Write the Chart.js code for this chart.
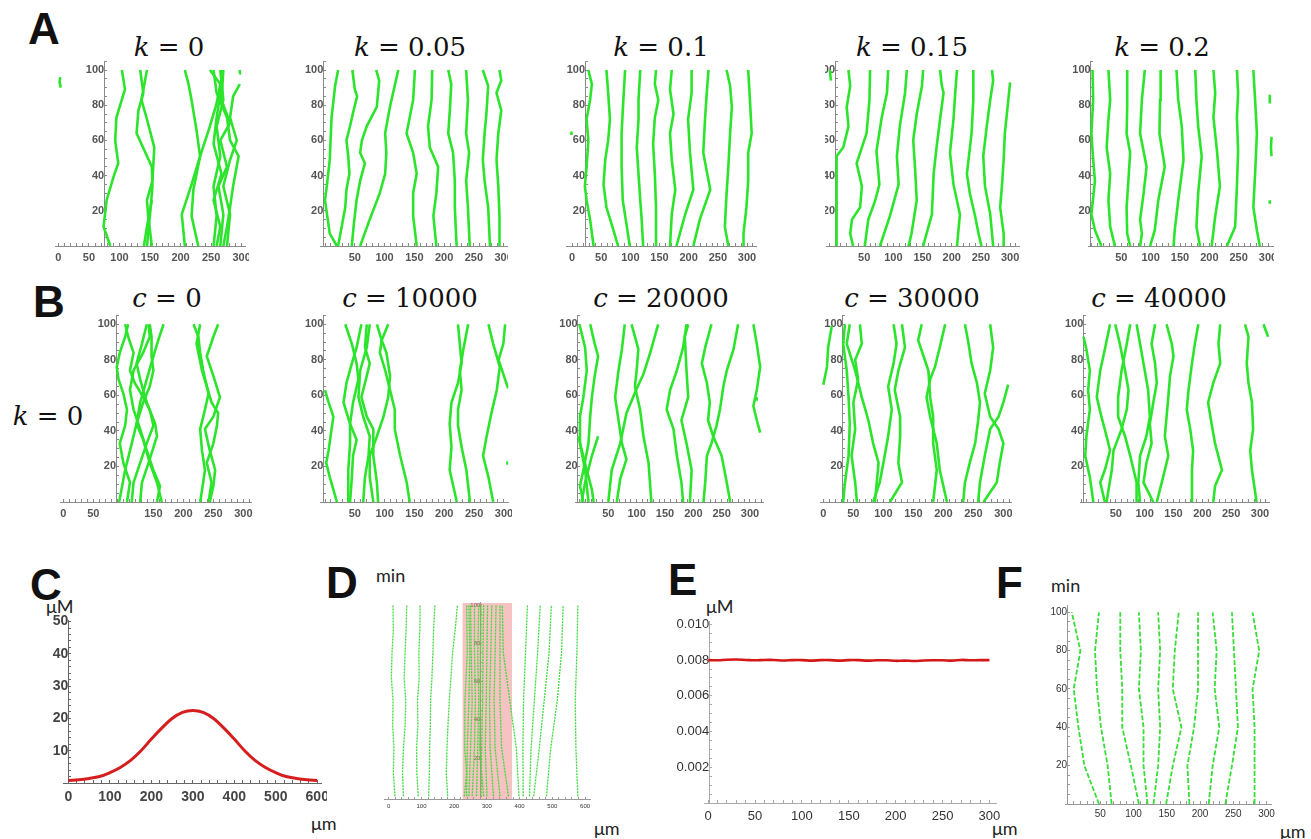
<!DOCTYPE html>
<html>
<head>
<meta charset="utf-8">
<script src="https://cdn.jsdelivr.net/npm/chart.js@4.4.1/dist/chart.umd.min.js"></script>
<style>
  body { margin: 0; background: #fff; }
  #page { position: relative; width: 1311px; height: 839px; overflow: hidden; background: #fff; }
  #page canvas { position: absolute; }
  .lbl { position: absolute; line-height: 1; white-space: nowrap; color: #111; }
  .letter { font: bold 44px 'Liberation Sans', Arial, sans-serif; }
  .ttl { font: 26px 'DejaVu Serif', serif; transform: translateX(-50%); }
  .unit { font: 18px Lato, sans-serif; color: #222; }
</style>
</head>
<body>
<div id="page">
  <div class="lbl letter" style="left:28px;top:4px">A</div>
  <div class="lbl letter" style="left:33px;top:277px">B</div>
  <div class="lbl letter" style="left:30px;top:560px">C</div>
  <div class="lbl letter" style="left:326px;top:558px">D</div>
  <div class="lbl letter" style="left:668px;top:555px">E</div>
  <div class="lbl letter" style="left:996px;top:558px">F</div>

  <div class="lbl ttl" style="left:169px;top:32px"><i>k</i> = 0</div>
  <div class="lbl ttl" style="left:410px;top:32px"><i>k</i> = 0.05</div>
  <div class="lbl ttl" style="left:661px;top:32px"><i>k</i> = 0.1</div>
  <div class="lbl ttl" style="left:912px;top:32px"><i>k</i> = 0.15</div>
  <div class="lbl ttl" style="left:1162px;top:32px"><i>k</i> = 0.2</div>

  <div class="lbl ttl" style="left:167px;top:283px"><i>c</i> = 0</div>
  <div class="lbl ttl" style="left:410px;top:283px"><i>c</i> = 10000</div>
  <div class="lbl ttl" style="left:661px;top:283px"><i>c</i> = 20000</div>
  <div class="lbl ttl" style="left:912px;top:283px"><i>c</i> = 30000</div>
  <div class="lbl ttl" style="left:1159px;top:283px"><i>c</i> = 40000</div>
  <div class="lbl ttl" style="left:48px;top:401px"><i>k</i> = 0</div>

  <div class="lbl unit" style="left:46px;top:595px">μM</div>
  <div class="lbl unit" style="left:311px;top:812px">μm</div>
  <div class="lbl unit" style="left:376px;top:564px">min</div>
  <div class="lbl unit" style="left:594px;top:817px">μm</div>
  <div class="lbl unit" style="left:706px;top:595px">μM</div>
  <div class="lbl unit" style="left:992px;top:817px">μm</div>
  <div class="lbl unit" style="left:1051px;top:574px">min</div>
  <div class="lbl unit" style="left:1280px;top:820px">μm</div>
</div>

<script>
// ---- row A: k = 0 ... 0.2, tracks as [x (µm), t (min)] ----
const A1_TRACKS = [
  [[85,0],[74,11],[79,26],[90,39],[98,47],[93,60],[95,73],[109,89],[104,100]],
  [[145,0],[150,18],[154,34],[153,45],[128,64],[131,77],[139,87],[134,100]],
  [[153,0],[147,17],[145,26],[154,37],[157,56],[145,72],[136,83],[145,100]],
  [[140,0],[145,11],[153,26]],
  [[207,0],[202,18],[218,35],[232,51],[248,68],[259,81],[265,92],[248,100]],
  [[229,0],[218,17],[221,32],[232,51],[226,66],[218,83],[213,92],[207,100]],
  [[254,0],[259,17],[254,34],[265,51],[259,68],[270,83],[265,100]],
  [[265,0],[270,18],[262,34],[276,45],[265,60],[281,70],[267,83],[270,100]],
  [[276,0],[281,18],[270,34],[281,49],[292,60],[281,73],[286,85],[297,92]],
  [[259,0],[265,11],[254,26],[267,41],[254,58],[259,73],[267,91],[267,100]],
  [[270,0],[276,11],[281,22],[286,34],[295,51],[281,60],[276,73],[259,87],[254,100]],
  [[296,98],[297,100]],
  [[3,96],[2,93],[4,90]]
];
const A2_TRACKS = [
  [[20,0],[8,7],[0,26],[3,34],[8,49],[11,73],[17,91],[22,100]],
  [[22,0],[28,11],[34,22],[36,32],[41,41],[39,51],[36,60],[42,68],[48,77],[54,85],[50,89],[46,100]],
  [[45,0],[48,11],[53,26],[59,37],[67,47],[59,53],[62,60],[70,68],[87,79],[91,94],[86,100]],
  [[59,0],[75,15],[92,30],[101,41],[103,53],[101,64],[109,79],[117,91],[123,100]],
  [[154,0],[148,17],[148,30],[154,41],[148,53],[137,64],[148,83],[151,100]],
  [[187,0],[182,17],[187,30],[190,45],[176,56],[173,68],[179,83],[180,100]],
  [[221,0],[218,22],[218,37],[215,53],[207,64],[210,79],[212,92],[207,100]],
  [[243,0],[240,22],[237,37],[242,53],[237,64],[240,83],[237,100]],
  [[277,0],[274,22],[268,37],[265,49],[268,64],[271,75],[274,91],[265,100]],
  [[293,0],[293,17],[291,34],[288,49],[291,64],[296,77],[288,87],[296,94],[293,100]]
];
const A3_TRACKS = [
  [[37,0],[31,15],[25,26],[22,34],[25,45],[28,60],[25,72],[31,83],[34,92],[28,100]],
  [[79,0],[71,9],[59,22],[54,35],[57,49],[62,60],[65,72],[62,87],[59,100]],
  [[99,0],[94,11],[87,26],[85,45],[85,64],[88,83],[91,100]],
  [[122,0],[119,17],[117,26],[114,41],[111,56],[114,72],[114,83],[117,100]],
  [[144,0],[144,22],[142,41],[139,58],[142,73],[148,83],[142,92],[144,100]],
  [[168,0],[171,18],[177,32],[171,49],[168,64],[174,75],[168,89],[171,100]],
  [[179,0],[194,18],[208,32],[202,54],[199,72],[205,87],[205,100]],
  [[208,0],[219,15],[237,32],[225,53],[228,72],[231,87],[234,100]],
  [[268,0],[262,11],[265,30],[268,45],[271,64],[274,79],[271,91],[265,100]],
  [[294,0],[294,7],[299,22],[302,37],[302,53],[308,64],[305,83],[302,100]],
  [[-1,63],[-1,65]]
];
const A4_TRACKS = [
  [[-9,100],[-7,94]],
  [[2,0],[3,26],[2,41],[3,51],[14,56],[23,68],[20,79],[26,91],[23,100]],
  [[31,0],[26,7],[29,15],[43,22],[46,34],[37,47],[54,64],[59,83],[60,100]],
  [[51,0],[57,15],[69,26],[76,35],[71,54],[80,73],[89,87],[91,100]],
  [[77,0],[94,17],[109,35],[106,51],[111,68],[120,87],[123,100]],
  [[126,0],[131,7],[140,26],[137,45],[134,60],[140,75],[149,91],[151,100]],
  [[151,0],[166,18],[169,41],[174,56],[180,72],[186,87],[183,91],[180,100]],
  [[209,0],[214,18],[203,35],[197,53],[203,72],[206,87],[209,100]],
  [[251,0],[246,7],[240,17],[231,30],[226,41],[234,64],[237,83],[237,100]],
  [[271,0],[266,18],[257,34],[254,51],[260,68],[266,83],[271,94],[269,100]],
  [[289,0],[289,7],[283,22],[286,34],[289,49],[291,64],[297,83],[300,93]]
];
const A5_TRACKS = [
  [[16,0],[5,9],[-1,18],[5,37],[2,49],[-1,64],[2,83],[1,100]],
  [[39,0],[31,11],[28,26],[31,41],[25,56],[28,72],[31,83],[28,100]],
  [[65,0],[60,7],[59,22],[62,37],[65,53],[59,64],[60,79],[60,100]],
  [[82,0],[85,7],[82,15],[88,30],[93,45],[82,64],[85,83],[90,100]],
  [[99,0],[107,9],[113,26],[124,45],[115,64],[116,83],[117,100]],
  [[139,0],[141,9],[147,26],[156,49],[153,68],[147,83],[144,100]],
  [[184,0],[178,11],[181,30],[187,51],[181,68],[178,83],[176,100]],
  [[204,0],[210,17],[218,34],[213,54],[207,73],[210,87],[207,100]],
  [[230,0],[244,11],[247,34],[249,54],[247,73],[249,87],[247,100]],
  [[286,0],[281,9],[275,22],[278,41],[281,64],[278,83],[275,100]],
  [[303,81],[303,86]],
  [[306,51],[305,56],[306,62]],
  [[303,24],[303,26]]
];

// ---- row B: c = 0 ... 40000 (k = 0) ----
const B1_TRACKS = [
  [[93,0],[103,18],[114,33],[122,44],[128,56],[139,69],[150,82],[158,91],[167,100]],
  [[106,0],[111,11],[100,22],[94,33],[103,43],[106,52],[100,61],[92,69],[89,76],[94,84],[103,93],[108,100]],
  [[114,0],[117,11],[128,22],[139,33],[150,43],[144,52],[133,59],[119,67],[111,74],[117,84],[108,93],[103,100]],
  [[128,0],[131,11],[142,22],[156,37],[153,44],[139,56],[128,69],[122,78],[131,89],[139,100]],
  [[156,0],[161,9],[150,18],[139,29],[128,41],[117,52],[111,63],[117,74],[133,84],[144,93],[142,100]],
  [[164,0],[156,11],[144,22],[133,35],[122,44],[133,56],[144,65],[150,74],[147,82],[147,93],[144,100]],
  [[228,0],[233,11],[236,18],[231,29],[228,41],[236,52],[242,61],[233,74],[228,84],[225,93],[217,100]],
  [[242,0],[247,11],[239,22],[250,33],[256,43],[258,50],[247,56],[239,65],[231,74],[222,89],[228,100]],
  [[244,0],[250,9],[253,18],[244,29],[236,41],[250,48],[261,59],[250,71],[239,82],[250,93],[258,100]]
];
const B2_TRACKS = [
  [[20,0],[8,14],[2,22],[6,29],[11,41],[14,48],[6,56],[0,63]],
  [[42,0],[45,14],[47,26],[53,35],[42,44],[47,56],[56,69],[53,78],[45,89],[34,100]],
  [[39,0],[39,18],[42,33],[42,44],[31,56],[36,67],[45,78],[53,87],[61,100]],
  [[89,0],[87,11],[81,26],[81,41],[70,48],[61,59],[70,71],[75,78],[67,87],[70,100]],
  [[64,0],[67,14],[73,26],[75,37],[64,48],[56,59],[59,74],[70,87],[75,100]],
  [[81,0],[75,14],[75,26],[87,37],[98,48],[106,59],[109,71],[103,84],[95,91],[87,100]],
  [[142,0],[137,11],[126,26],[117,41],[117,52],[109,63],[101,74],[92,84],[95,91],[106,100]],
  [[221,0],[209,18],[212,31],[209,44],[212,56],[223,67],[229,78],[226,89],[223,100]],
  [[243,0],[237,18],[229,31],[223,43],[223,52],[229,63],[226,74],[232,86],[240,100]],
  [[282,0],[274,14],[265,26],[271,37],[279,50],[288,63],[293,76],[282,89],[274,100]],
  [[307,64],[299,72],[291,80],[299,89],[302,100]],
  [[306,21],[306,23]]
];
const B3_TRACKS = [
  [[15,0],[9,18],[0,33],[0,48],[6,59],[12,74],[9,87],[-1,100]],
  [[6,0],[0,9],[6,18],[15,33],[18,48],[21,59],[26,71],[32,82],[26,89],[18,100]],
  [[24,0],[21,7],[12,18],[-3,37]],
  [[3,0],[9,11],[21,26],[32,37]],
  [[65,0],[71,13],[82,24],[74,33],[68,46],[62,59],[68,74],[74,86],[79,100]],
  [[126,0],[121,22],[112,37],[106,52],[97,65],[100,74],[103,86],[91,100]],
  [[50,0],[56,18],[71,33],[82,50],[99,63],[112,72],[124,84],[138,100]],
  [[182,0],[179,11],[171,26],[165,41],[153,52],[159,63],[171,74],[182,87],[188,100]],
  [[194,0],[197,18],[188,33],[179,46],[191,59],[188,74],[185,93],[191,100]],
  [[265,0],[259,11],[250,26],[235,37],[226,46],[229,56],[224,67],[215,78],[221,87],[232,100]],
  [[218,0],[221,11],[224,26],[232,33],[241,43],[247,52],[253,65],[259,74],[271,86],[279,100]],
  [[318,39],[312,46],[306,54],[312,63],[318,76],[312,89],[306,100]],
  [[312,57],[312,59]]
];
const B4_TRACKS = [
  [[0,66],[6,76],[8,87],[14,99]],
  [[33,0],[36,11],[42,26],[44,44],[42,59],[39,74],[33,89],[36,100]],
  [[86,0],[89,11],[92,22],[83,33],[75,46],[64,59],[53,74],[39,89],[44,100]],
  [[56,0],[53,11],[47,26],[53,41],[50,56],[58,69],[53,80],[64,89],[61,100]],
  [[83,0],[94,11],[100,22],[108,37],[114,52],[108,65],[117,78],[122,89],[117,100]],
  [[111,0],[131,11],[125,22],[128,37],[128,48],[119,63],[125,74],[136,87],[131,100]],
  [[183,0],[189,18],[183,33],[183,48],[178,59],[175,74],[167,82],[158,91],[164,100]],
  [[206,0],[194,18],[189,33],[178,48],[172,59],[178,69],[186,76],[194,87],[203,100]],
  [[233,0],[236,11],[244,22],[253,33],[258,46],[261,56],[256,67],[247,78],[242,89],[236,100]],
  [[267,0],[289,11],[294,22],[300,33],[292,41],[278,48],[269,61],[278,74],[283,87],[278,100]],
  [[258,0],[261,11],[269,26],[278,41],[292,48],[300,56],[308,66]]
];
const B5_TRACKS = [
  [[11,0],[5,14],[-3,26],[-1,37],[5,52],[2,63],[5,74],[-1,86],[-6,93]],
  [[31,0],[23,11],[31,18],[40,29],[34,37],[25,48],[17,59],[23,74],[31,86],[40,100]],
  [[34,0],[43,18],[46,29],[60,41],[69,52],[72,63],[66,74],[57,89],[49,100]],
  [[86,0],[86,11],[75,26],[66,37],[54,48],[54,59],[60,74],[69,89],[75,100]],
  [[92,0],[89,11],[92,26],[103,37],[109,48],[106,63],[98,78],[92,89],[86,100]],
  [[115,0],[98,11],[103,22],[112,33],[109,44],[115,56],[121,67],[118,78],[112,89],[118,100]],
  [[121,0],[132,14],[141,26],[135,37],[138,48],[141,59],[144,71],[150,82],[147,89],[138,100]],
  [[182,0],[182,18],[184,29],[179,41],[173,52],[176,63],[182,78],[187,89],[193,100]],
  [[219,0],[222,9],[234,18],[222,33],[216,44],[210,56],[219,67],[231,78],[228,89],[231,100]],
  [[294,0],[286,18],[283,29],[288,41],[286,56],[280,67],[277,78],[280,93],[274,100]],
  [[306,100],[314,93]]
];

// ---- C: concentration profile (µM vs µm) ----
const C_X = [0,25,50,75,100,125,150,175,200,225,250,275,300,325,350,375,400,425,450,475,500,525,550,575,600];
const C_Y = [0.8,1.0,1.4,2.0,3.2,4.8,7.0,10.0,13.6,17.0,20.0,21.9,22.5,21.9,20.0,17.0,13.6,10.0,7.0,4.8,3.2,2.0,1.4,1.0,0.8];

// ---- D: tracks on 0..600 µm, pink region ----
const D_TRACKS = [
  [[19,0],[14,12],[16,25],[12,37],[13,50],[8,62],[10,75],[14,87],[13,100]],
  [[45,0],[42,12],[45,25],[50,37],[52,50],[47,62],[50,75],[53,87],[55,100]],
  [[90,0],[86,12],[85,25],[89,37],[88,50],[93,62],[92,75],[95,87],[96,100]],
  [[122,0],[124,12],[125,25],[127,37],[128,50],[132,62],[135,75],[137,87],[141,100]],
  [[180,0],[176,12],[178,25],[181,37],[185,50],[190,62],[195,75],[203,87],[210,100]],
  [[231,0],[238,12],[232,25],[233,50],[240,75],[238,100]],
  [[238,0],[240,25],[245,50],[248,75],[245,100]],
  [[245,0],[250,25],[255,50],[252,75],[250,100]],
  [[255,0],[262,25],[265,50],[262,75],[262,100]],
  [[268,0],[272,25],[275,50],[272,75],[275,100]],
  [[290,0],[278,25],[280,50],[280,75],[282,100]],
  [[282,0],[284,25],[287,50],[288,75],[290,100]],
  [[300,0],[295,25],[298,50],[300,75],[302,100]],
  [[320,0],[310,25],[308,50],[312,75],[315,100]],
  [[340,0],[325,25],[322,50],[325,75],[328,100]],
  [[366,0],[345,25],[340,50],[340,75],[340,100]],
  [[398,0],[390,25],[370,50],[350,75],[347,100]],
  [[411,0],[410,25],[412,50],[418,75],[424,100]],
  [[430,0],[435,25],[445,50],[455,75],[463,100]],
  [[443,0],[460,25],[475,50],[490,75],[497,100]],
  [[482,0],[495,25],[515,50],[528,75],[533,100]],
  [[578,0],[572,25],[570,50],[575,75],[578,100]]
];
const D_BAND_X = [225, 377];

// ---- E: flat profile (µM vs µm) ----
const E_X = [0,10,20,30,40,50,60,70,80,90,100,110,120,130,140,150,160,170,180,190,200,210,220,230,240,250,260,270,280,290,300];
const E_Y = [0.00800,0.00799,0.00802,0.00803,0.00801,0.00799,0.00801,0.00801,0.00798,0.00800,0.00800,0.00797,0.00800,0.00800,0.00797,0.00800,
             0.00800,0.00797,0.00799,0.00799,0.00796,0.00797,0.00795,0.00798,0.00799,0.00799,0.00797,0.00801,0.00799,0.00800,0.00800];

// ---- F: tracks ----
const F_TRACKS = [
  [[48,0],[26,20],[17,40],[10,60],[20,80],[7,100]],
  [[67,0],[61,20],[51,40],[45,60],[42,80],[48,100]],
  [[108,0],[96,20],[83,40],[83,60],[80,80],[80,100]],
  [[121,0],[115,20],[115,40],[108,60],[111,80],[108,100]],
  [[130,0],[137,20],[140,40],[137,60],[140,80],[137,100]],
  [[149,0],[159,20],[172,40],[159,60],[162,80],[168,100]],
  [[184,0],[181,20],[191,40],[197,60],[197,80],[197,100]],
  [[213,0],[219,20],[229,40],[222,60],[225,80],[219,100]],
  [[238,0],[248,20],[257,40],[254,60],[251,80],[248,100]],
  [[282,0],[282,20],[282,40],[279,60],[289,80],[279,100]]
];

// tick labels
const X300 = [50, 100, 150, 200, 250, 300];
const X300_0 = [0, 50, 100, 150, 200, 250, 300];
const B1_X = [0, 50, 150, 200, 250, 300];
const TRACK_Y = [20, 40, 60, 80, 100];
const C_XT = [0, 100, 200, 300, 400, 500, 600];
const C_YT = [10, 20, 30, 40, 50];
const E_YT = [0.002, 0.004, 0.006, 0.008, 0.010];

// ---------------------------------------------------------------
const page = document.getElementById('page');
const GREEN = 'rgb(45,228,45)';

function pick(list, fmt) {
  return v => {
    const hit = list.find(l => Math.abs(l - v) < 1e-9);
    return hit === undefined ? '' : fmt(hit);
  };
}

function trackSets(tracks, style) {
  return tracks.map(tr => Object.assign({
    data: tr.map(([x, t]) => ({ x: x, y: t })),
    showLine: true, pointRadius: 0, fill: false
  }, style));
}

// keep the layout fixed: no automatic room for label overhang
function noPad(s) {
  s.paddingLeft = 0; s.paddingRight = 0; s.paddingTop = 0; s.paddingBottom = 0;
}

function panel(p) {
  const [L, T, R, B] = p.box;
  const left = Math.round(L - p.padL), top = Math.round(T - 6);
  const right = Math.round(R + p.padR), bottom = Math.round(B + p.axisH);
  const cv = document.createElement('canvas');
  cv.width = right - left; cv.height = bottom - top;
  cv.style.left = left + 'px'; cv.style.top = top + 'px';
  page.appendChild(cv);

  const font = { family: "'Liberation Sans', Arial, sans-serif", size: p.fontSize, weight: p.fontWeight };
  const fmt = p.fmt || (v => String(v));
  const axis = p.axisColor || '#8a8a8a';

  new Chart(cv, {
    type: 'scatter',
    data: { datasets: p.datasets },
    options: {
      responsive: false, animation: false, events: [],
      layout: { autoPadding: false, padding: { left: L - left, right: right - R, top: T - top, bottom: 0 } },
      plugins: { legend: { display: false }, tooltip: { enabled: false } },
      scales: {
        x: {
          type: 'linear', position: 'bottom', min: p.xr[0], max: p.xr[1],
          afterFit: s => { s.height = p.axisH; noPad(s); },
          grid: { drawOnChartArea: false, tickLength: -p.tick, color: axis },
          border: { color: axis },
          ticks: { stepSize: p.xStep, autoSkip: false, includeBounds: false, maxRotation: 0, minRotation: 0,
                   padding: p.xPad, color: p.textColor, font: font, callback: pick(p.xLabels, v => String(v)) }
        },
        y: {
          type: 'linear', min: p.yr[0], max: p.yr[1], position: { x: p.yAt },
          afterFit: s => { s.width = 0; noPad(s); },
          grid: { drawOnChartArea: false, tickLength: -p.tick, color: axis },
          border: { color: axis },
          ticks: { stepSize: p.yStep, autoSkip: false, includeBounds: false,
                   padding: p.yPad, color: p.textColor, font: font, callback: pick(p.yLabels, fmt) }
        }
      }
    }
  });
}

// small trajectory panels (rows A and B)
const trackStyle = { borderColor: GREEN, borderWidth: 2.6 };
const small = [
  { tr: A1_TRACKS, box: [55, 61.2, 245.7, 245.7], xr: [-5.5, 306.6], yAt: 75, xl: X300_0, padL: 40, padR: 3 },
  { tr: A2_TRACKS, box: [320, 61.2, 508.3, 245.7], xr: [-8.4, 307.3], yAt: -2.8, xl: X300, padL: 40, padR: 0 },
  { tr: A3_TRACKS, box: [566.7, 61.2, 756.7, 245.7], xr: [-9.1, 316.6], yAt: 22.3, xl: X300_0, padL: 1, padR: 0 },
  { tr: A4_TRACKS, box: [826.7, 61.2, 1020, 245.7], xr: [-14.3, 317], yAt: 0, xl: X300, padL: 2, padR: 0 },
  { tr: A5_TRACKS, box: [1088.3, 61.2, 1273.3, 245.7], xr: [-6.3, 309], yAt: -2.3, xl: X300, padL: 40, padR: 1 },
  { tr: B1_TRACKS, box: [60, 315.4, 251.7, 502.3], xr: [-5.6, 313.9], yAt: 87.8, xl: B1_X, padL: 40, padR: 1 },
  { tr: B2_TRACKS, box: [320, 315.4, 508.3, 502.3], xr: [-8.4, 307.3], yAt: -2.8, xl: X300, padL: 40, padR: 4 },
  { tr: B3_TRACKS, box: [575, 315.4, 763.3, 502.3], xr: [-8.8, 323.5], yAt: -4.1, xl: X300, padL: 40, padR: 3 },
  { tr: B4_TRACKS, box: [820, 315.4, 1011.7, 502.3], xr: [-5.6, 313.9], yAt: 32.2, xl: X300_0, padL: 40, padR: 0 },
  { tr: B5_TRACKS, box: [1080, 315.4, 1270, 502.3], xr: [-12.1, 317.3], yAt: -6.4, xl: X300, padL: 40, padR: 0 }
];
small.forEach(s => panel({
  box: s.box, xr: s.xr, yr: [0, 105], yAt: s.yAt, padL: s.padL, padR: s.padR, axisH: 24,
  xStep: 10, yStep: 5, xLabels: s.xl, yLabels: TRACK_Y, tick: 3, xPad: 8, yPad: 7,
  fontSize: 11, fontWeight: 'bold', textColor: '#555',
  datasets: trackSets(s.tr, trackStyle)
}));

// C: concentration profile
panel({
  box: [63, 620, 321.4, 783.3], xr: [-13, 610], yr: [0, 50.5], yAt: 0, padL: 40, padR: 6, axisH: 30,
  xStep: 20, yStep: 2, xLabels: C_XT, yLabels: C_YT, tick: 3, xPad: 9, yPad: 9,
  fontSize: 14, fontWeight: 'bold', textColor: '#444', axisColor: '#666',
  datasets: [{
    data: C_X.map((x, i) => ({ x: x, y: C_Y[i] })), showLine: true, pointRadius: 0,
    borderColor: 'rgb(214,30,30)', borderWidth: 3, tension: 0.4
  }]
});

// D: tracks over pink region
const dSets = trackSets(D_TRACKS, { borderColor: 'rgb(60,220,60)', borderWidth: 1.3, borderDash: [2, 1] });
dSets.push({
  data: D_BAND_X.map(x => ({ x: x, y: 101.2 })), showLine: true, pointRadius: 0, borderWidth: 0,
  fill: 'start', backgroundColor: 'rgba(236,120,120,0.45)'
});
panel({
  box: [384.5, 602.7, 590.3, 799.3], xr: [-13, 616], yr: [-1.4, 101.2], yAt: 280, padL: 40, padR: 6, axisH: 20,
  xStep: 20, yStep: 5, xLabels: C_XT, yLabels: TRACK_Y, tick: 2, xPad: 6, yPad: 5,
  fontSize: 6, fontWeight: 'normal', textColor: '#333', axisColor: '#999',
  datasets: dSets
});

// E: flat profile
panel({
  box: [704, 621.7, 996, 803.3], xr: [-4.5, 307], yr: [0, 0.01015], yAt: 1, padL: 50, padR: 6, axisH: 30,
  xStep: 10, yStep: 0.0005, xLabels: X300_0, yLabels: E_YT, tick: 3, xPad: 9, yPad: 8,
  fontSize: 13, fontWeight: 'normal', textColor: '#333', axisColor: '#aaa',
  fmt: v => v.toFixed(3),
  datasets: [{
    data: E_X.map((x, i) => ({ x: x, y: E_Y[i] })), showLine: true, pointRadius: 0,
    borderColor: 'rgb(212,24,24)', borderWidth: 2.6, tension: 0.4
  }]
});

// F: tracks (range chosen so the 10-step ticks stay on round values)
panel({
  box: [1065.5, 605, 1271.3, 804], xr: [-2.4, 307.2], yr: [0, 103.8], yAt: 0, padL: 40, padR: 6, axisH: 26,
  xStep: 10, yStep: 5, xLabels: X300, yLabels: TRACK_Y, tick: 3, xPad: 7, yPad: 6,
  fontSize: 10, fontWeight: 'normal', textColor: '#333', axisColor: '#999',
  datasets: trackSets(F_TRACKS, { borderColor: 'rgb(55,222,55)', borderWidth: 1.8, borderDash: [5, 2] })
});
</script>
</body>
</html>
